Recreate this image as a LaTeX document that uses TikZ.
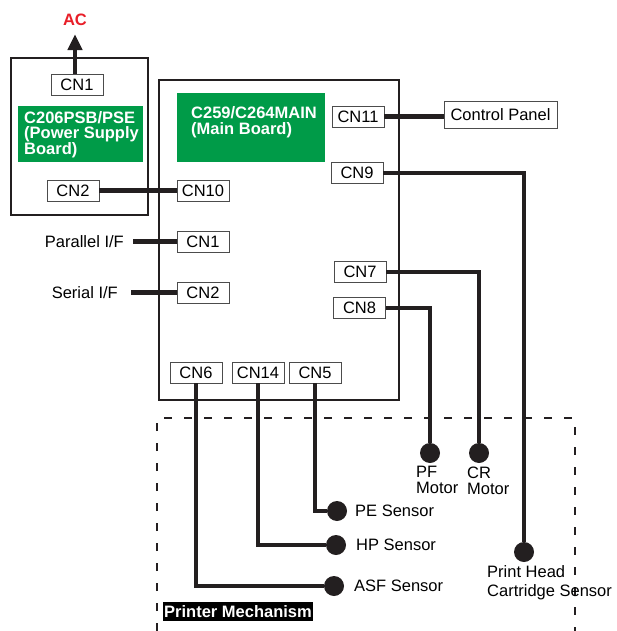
\documentclass[tikz,border=0pt]{standalone}
\usepackage{fontspec}
\setmainfont{Liberation Sans}
\usetikzlibrary{arrows.meta}
\definecolor{pcbgreen}{RGB}{0,155,72}
\definecolor{acred}{RGB}{232,30,40}
\definecolor{ink}{RGB}{35,31,32}
\begin{document}
\begin{tikzpicture}[x=1pt,y=-1pt,
  font=\fontsize{16.5}{16}\selectfont,
  cn/.style={draw=black!70, line width=0.9pt, fill=white, minimum width=52pt, minimum height=21pt, inner sep=0pt},
  wire/.style={line width=4.5pt, draw=ink},
  board/.style={draw=ink, line width=2pt},
  gtext/.style={text=white, font=\fontsize{16.5}{15.8}\selectfont\bfseries, align=left, anchor=north west, inner sep=0pt},
  dot/.style={circle, fill=ink, minimum size=20pt, inner sep=0pt},
  lbl/.style={inner sep=0pt},
  dashline/.style={draw=ink, line width=1.2pt, dash pattern=on 8pt off 12pt}]
\useasboundingbox (0,0) rectangle (616,631);

% Printer mechanism dashed outline
\draw[dashline] (157,631) -- (157,418) -- (575,418) -- (575,631);

% Power supply board
\draw[board] (11,58) rectangle (148,215);
\fill[pcbgreen] (18,106) rectangle (143,162);
\node[gtext] (psbt) at (24,111) {C206PSB/PSE\\(Power Supply\\Board)};

% Main board
\draw[board] (159,80) rectangle (399,400);
\fill[pcbgreen] (177,93) rectangle (325,162);
\node[gtext] (mbt) at (191,106.5) {C259/C264MAIN\\(Main Board)};

% AC
\node[lbl, text=acred, font=\fontsize{16.5}{16}\selectfont\bfseries] (ac) at (75,20) {AC};

% connector nodes
\node[cn] (pcn1) at (77,85) {CN1};
\node[cn] (pcn2) at (73,190.5) {CN2};
\node[cn] (cn10) at (203,190.5) {CN10};
\node[cn] (cn1) at (203,241.5) {CN1};
\node[cn] (cn2) at (203,292.5) {CN2};
\node[cn] (cn11) at (358,116.5) {CN11};
\node[cn] (cn9) at (357,173) {CN9};
\node[cn] (cn7) at (360,272) {CN7};
\node[cn] (cn8) at (359.5,308) {CN8};
\node[cn] (cn6) at (196,372.5) {CN6};
\node[cn] (cn14) at (258,372.5) {CN14};
\node[cn] (cn5) at (315,372.5) {CN5};
\node[cn, minimum width=113pt, minimum height=27pt] (cp) at (500.5,115) {Control Panel};

% external labels
\node[lbl, anchor=east] (par) at (124,241.5) {Parallel I/F};
\node[lbl, anchor=east] (ser) at (118,292.5) {Serial I/F};

% end points
\node[dot] (pf) at (430,453) {};
\node[dot] (cr) at (479,453) {};
\node[dot] (pe) at (337,511) {};
\node[dot] (hp) at (336,545) {};
\node[dot] (asf) at (334,586) {};
\node[dot] (ph) at (524,552) {};

% wires
\draw[wire, {Triangle[length=16pt,width=14pt]}-] ([yshift=-8pt]ac.south) -- (ac.south |- pcn1.north);
\draw[wire] (pcn2.east) -- (cn10.west);
\draw[wire] ([xshift=9pt]par.east) -- (cn1.west);
\draw[wire] ([xshift=13pt]ser.east) -- (cn2.west);
\draw[wire] (cn11.east) -- (cn11.east -| cp.west);
\draw[wire] (cn9.east) -| (ph);
\draw[wire] (cn7.east) -| (cr);
\draw[wire] (cn8.east) -| (pf);
\draw[wire] (cn5.south) |- (pe);
\draw[wire] (cn14.south) |- (hp);
\draw[wire] (cn6.south) |- (asf);

% end point labels
\node[lbl, anchor=north west, align=left] (pft) at (416,466) {PF\\Motor};
\node[lbl, anchor=north west, align=left] (crt) at (467,467) {CR\\Motor};
\node[lbl, anchor=west] (pet) at (355,511) {PE Sensor};
\node[lbl, anchor=west] (hpt) at (356,545) {HP Sensor};
\node[lbl, anchor=west] (asft) at (354,586) {ASF Sensor};
\node[lbl, anchor=north west, align=left, font=\fontsize{16.5}{19.5}\selectfont] (pht) at (487,565) {Print Head\\Cartridge Sensor};

% printer mechanism label
\node[fill=black, text=white, font=\fontsize{16.5}{16}\selectfont\bfseries, minimum width=150pt, minimum height=19pt, inner sep=0pt] (pm) at (238,611.5) {Printer Mechanism};
\end{tikzpicture}
\end{document}
